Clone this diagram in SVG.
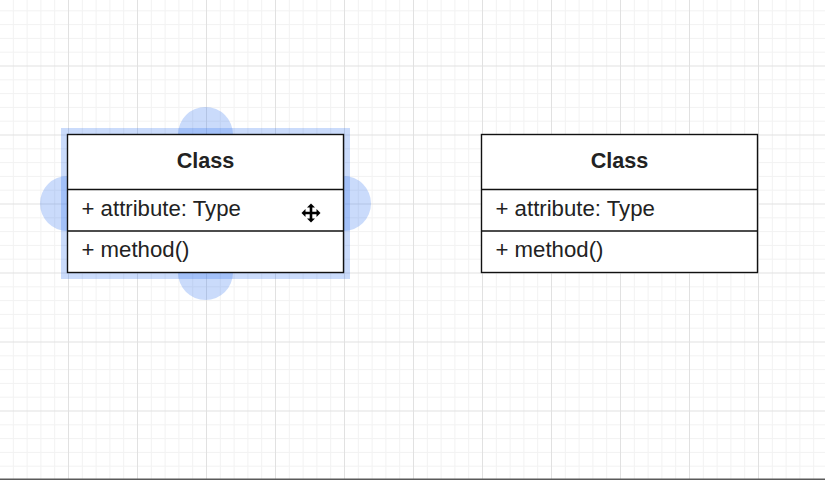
<svg xmlns="http://www.w3.org/2000/svg" width="825" height="480" viewBox="0 0 825 480">
<style>
.minor{stroke:#f2f2f2;stroke-width:1;fill:none}
.major{stroke:#e1e1e1;stroke-width:1;fill:none}
.box{fill:#ffffff;stroke:#111111;stroke-width:1.4}
.div{stroke:#111111;stroke-width:1.4}
.title{font-family:"Liberation Sans",Arial,sans-serif;font-size:21.6px;font-weight:bold;fill:#222222;text-anchor:middle}
.row{font-family:"Liberation Sans",Arial,sans-serif;font-size:22.2px;fill:#222222}
.sel{fill:#2a6ff0;fill-opacity:0.25}
.selband{fill:none;stroke:#2a6ff0;stroke-opacity:0.25;stroke-width:7}
</style>
<rect x="0" y="0" width="825" height="480" fill="#ffffff"/>
<g id="grid">
<path class="minor" d="M13.3 0V480M27.1 0V480M40.9 0V480M54.7 0V480M82.3 0V480M96.1 0V480M109.9 0V480M123.7 0V480M151.3 0V480M165.1 0V480M178.9 0V480M192.7 0V480M220.3 0V480M234.1 0V480M247.9 0V480M261.7 0V480M289.3 0V480M303.1 0V480M316.9 0V480M330.7 0V480M358.3 0V480M372.1 0V480M385.9 0V480M399.7 0V480M427.3 0V480M441.1 0V480M454.9 0V480M468.7 0V480M496.3 0V480M510.1 0V480M523.9 0V480M537.7 0V480M565.3 0V480M579.1 0V480M592.9 0V480M606.7 0V480M634.3 0V480M648.1 0V480M661.9 0V480M675.7 0V480M703.3 0V480M717.1 0V480M730.9 0V480M744.7 0V480M772.3 0V480M786.1 0V480M799.9 0V480M813.7 0V480
M0 10.8H825M0 24.6H825M0 38.4H825M0 52.2H825M0 79.8H825M0 93.6H825M0 107.4H825M0 121.2H825M0 148.8H825M0 162.6H825M0 176.4H825M0 190.2H825M0 217.8H825M0 231.6H825M0 245.4H825M0 259.2H825M0 286.8H825M0 300.6H825M0 314.4H825M0 328.2H825M0 355.8H825M0 369.6H825M0 383.4H825M0 397.2H825M0 424.8H825M0 438.6H825M0 452.4H825M0 466.2H825"/>
<path class="major" d="M68.5 0V480M137.5 0V480M206.5 0V480M275.5 0V480M344.5 0V480M413.5 0V480M482.5 0V480M551.5 0V480M620.5 0V480M689.5 0V480M758.5 0V480
M0 66H825M0 135H825M0 204H825M0 273H825M0 342H825M0 411H825"/>
</g>
<g id="selection">
<rect class="selband" x="64.5" y="131.5" width="282" height="144"/>
<circle class="sel" cx="205.5" cy="134.5" r="27.5"/>
<circle class="sel" cx="67.5" cy="203.5" r="27.5"/>
<circle class="sel" cx="343.5" cy="203.5" r="27.5"/>
<circle class="sel" cx="205.5" cy="272.5" r="27.5"/>
</g>
<g id="connectors"></g>
<g id="class-left">
<rect class="box" x="67.5" y="134.5" width="276" height="138"/>
<line class="div" x1="67.5" y1="189.5" x2="343.5" y2="189.5"/>
<line class="div" x1="67.5" y1="231" x2="343.5" y2="231"/>
<text class="title" x="205.5" y="167.5">Class</text>
<text class="row" x="81.5" y="216">+ attribute: Type</text>
<text class="row" x="81.5" y="257">+ method()</text>
</g>
<g id="class-right">
<rect class="box" x="481.5" y="134.5" width="276" height="138"/>
<line class="div" x1="481.5" y1="189.5" x2="757.5" y2="189.5"/>
<line class="div" x1="481.5" y1="231" x2="757.5" y2="231"/>
<text class="title" x="619.5" y="167.5">Class</text>
<text class="row" x="495.5" y="216">+ attribute: Type</text>
<text class="row" x="495.5" y="257">+ method()</text>
</g>
<g id="cursor" transform="translate(311,213)">
<path d="M0 -9.5L4 -5.5H1.3V-1.3H5.5V-4L9.5 0L5.5 4V1.3H1.3V5.5H4L0 9.5L-4 5.5H-1.3V1.3H-5.5V4L-9.5 0L-5.5 -4V-1.3H-1.3V-5.5H-4Z" fill="#000000" stroke="#ffffff" stroke-width="2.2" stroke-linejoin="round" paint-order="stroke"/>
</g>
<rect x="0" y="478.5" width="825" height="1.5" fill="#5a5a5a"/>
</svg>
